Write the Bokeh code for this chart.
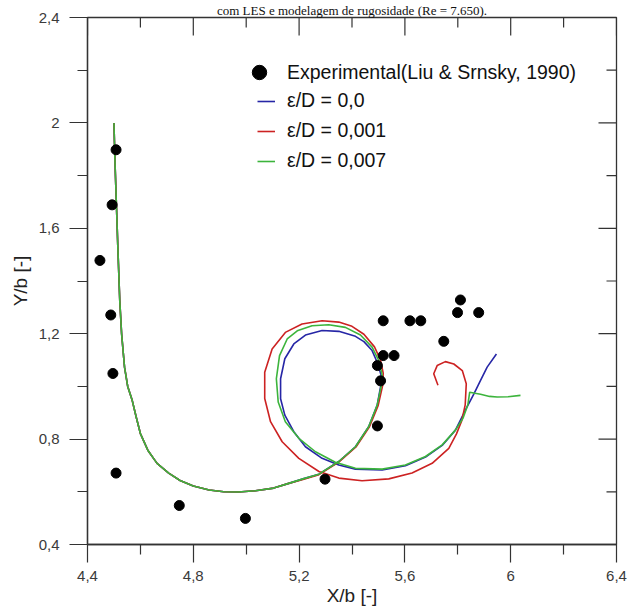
import math
from bokeh.plotting import figure
from bokeh.models import Range1d, FixedTicker, Legend, LegendItem
from bokeh.embed import file_html
from bokeh.resources import INLINE

# ---------------- data ----------------
x_ticks = [4.4, 4.8, 5.2, 5.6, 6.0, 6.4]
x_tick_labels = ["4,4", "4,8", "5,2", "5,6", "6", "6,4"]
x_minor = [4.6, 5.0, 5.4, 5.8, 6.2]
y_ticks = [0.4, 0.8, 1.2, 1.6, 2.0, 2.4]
y_tick_labels = ["0,4", "0,8", "1,2", "1,6", "2", "2,4"]
y_minor = [0.6, 1.0, 1.4, 1.8, 2.2]

exp_x = [4.508, 4.493, 4.447, 4.488, 4.496, 4.508, 4.747, 4.997, 5.298, 5.518, 5.619,
         5.660, 5.810, 5.799, 5.879, 5.747, 5.518, 5.559, 5.496, 5.508, 5.496]
exp_y = [1.898, 1.689, 1.478, 1.271, 1.049, 0.671, 0.548, 0.499, 0.648, 1.249, 1.249,
         1.249, 1.328, 1.280, 1.280, 1.171, 1.117, 1.117, 1.079, 1.021, 0.850]

# shared descent of the vortex (all three simulations coincide here)
approach_x = [4.500, 4.504, 4.509, 4.515, 4.522, 4.529, 4.540, 4.552, 4.569, 4.585, 4.600,
              4.628, 4.663, 4.707, 4.750, 4.800, 4.860, 4.915, 4.970, 5.035, 5.104, 5.161]
approach_y = [2.000, 1.850, 1.700, 1.520, 1.325, 1.199, 1.073, 1.000, 0.947, 0.880, 0.821,
              0.758, 0.708, 0.671, 0.643, 0.622, 0.607, 0.600, 0.599, 0.604, 0.614, 0.632]

# eps/D = 0.0 (blue)
blue_loop_x = [5.218, 5.275, 5.350, 5.413, 5.463, 5.495, 5.509, 5.510, 5.498, 5.476, 5.445,
               5.413, 5.350, 5.287, 5.224, 5.180, 5.146, 5.130, 5.130, 5.146, 5.180, 5.224,
               5.287, 5.350, 5.413, 5.514, 5.602, 5.678, 5.741, 5.791, 5.835, 5.861, 5.886,
               5.911, 5.946]
blue_loop_y = [0.650, 0.667, 0.715, 0.771, 0.847, 0.928, 1.004, 1.042, 1.085, 1.136, 1.170,
               1.190, 1.209, 1.212, 1.195, 1.161, 1.105, 1.029, 0.953, 0.891, 0.828, 0.771,
               0.727, 0.702, 0.686, 0.683, 0.699, 0.732, 0.776, 0.834, 0.922, 0.972, 1.023,
               1.073, 1.123]

# eps/D = 0.001 (red)
red_loop_x = [5.218, 5.275, 5.350, 5.415, 5.466, 5.499, 5.516, 5.518, 5.508, 5.485, 5.445,
              5.400, 5.350, 5.287, 5.211, 5.148, 5.098, 5.070, 5.070, 5.092, 5.136, 5.199,
              5.275, 5.350, 5.438, 5.539, 5.627, 5.703, 5.766, 5.795, 5.815, 5.828, 5.832,
              5.817, 5.785, 5.753, 5.722, 5.709, 5.725]
red_loop_y = [0.648, 0.665, 0.713, 0.770, 0.847, 0.928, 1.004, 1.050, 1.100, 1.150, 1.198,
              1.228, 1.244, 1.249, 1.237, 1.205, 1.142, 1.054, 0.954, 0.866, 0.790, 0.727,
              0.677, 0.652, 0.642, 0.649, 0.671, 0.708, 0.765, 0.820, 0.870, 0.930, 1.010,
              1.060, 1.085, 1.094, 1.079, 1.048, 1.004]

# eps/D = 0.007 (green)
green_loop_x = [5.218, 5.275, 5.350, 5.413, 5.463, 5.495, 5.511, 5.514, 5.504, 5.476, 5.432,
                5.375, 5.312, 5.249, 5.193, 5.155, 5.126, 5.114, 5.121, 5.148, 5.199, 5.262,
                5.337, 5.413, 5.514, 5.602, 5.678, 5.741, 5.791, 5.820, 5.838, 5.845, 5.865,
                5.886, 5.920, 5.949, 5.990, 6.037]
green_loop_y = [0.650, 0.667, 0.715, 0.771, 0.847, 0.928, 1.004, 1.042, 1.092, 1.149, 1.195,
                1.224, 1.234, 1.230, 1.211, 1.180, 1.117, 1.029, 0.941, 0.866, 0.803, 0.752,
                0.712, 0.689, 0.686, 0.702, 0.734, 0.778, 0.834, 0.880, 0.930, 0.978, 0.974,
                0.970, 0.962, 0.960, 0.961, 0.966]

exp_label = "Experimental(Liu & Srnsky, 1990)"
series_labels = ["\u03b5/D = 0,0", "\u03b5/D = 0,001", "\u03b5/D = 0,007"]
series_colors = ["#2626a6", "#cc2222", "#3cb43c"]
caption_text = "com LES e modelagem de rugosidade (Re = 7.650)."

# ---------------- figure ----------------
FONT = "Liberation Sans"
AX = "#333333"
X0, X1 = x_ticks[0], x_ticks[-1]
Y0, Y1 = y_ticks[0], y_ticks[-1]

p = figure(width=635, height=608,
           x_range=Range1d(X0, X1), y_range=Range1d(Y0, Y1),
           output_backend="svg", toolbar_location=None,
           min_border_left=87, min_border_right=19, min_border_top=15, min_border_bottom=63,
           x_axis_label="X/b [-]", y_axis_label="Y/b [-]")
p.grid.visible = False
p.outline_line_color = AX
p.outline_line_width = 1.3
p.background_fill_color = "white"
p.border_fill_color = "white"

# caption of the source document (cut off at the top of the reference picture)
p.title.text = caption_text
p.title.text_font = "Liberation Serif"
p.title.text_font_size = "13px"
p.title.text_font_style = "normal"
p.title.text_color = "#111111"
p.title.align = "center"
p.title.standoff = 0
p.title.offset = 0


def style_axis(ax, ticks, minor, labels, label_standoff):
    ax.ticker = FixedTicker(ticks=ticks, minor_ticks=minor)
    ax.axis_line_color = AX
    ax.axis_line_width = 1.3
    ax.major_tick_line_color = AX
    ax.minor_tick_line_color = AX
    ax.major_tick_line_width = 1.2
    ax.minor_tick_line_width = 1.2
    ax.major_tick_in, ax.major_tick_out = 0, 18
    ax.minor_tick_in, ax.minor_tick_out = 0, 10
    ax.major_label_overrides = dict(zip(ticks, labels))
    ax.major_label_text_font = FONT
    ax.major_label_text_font_size = "15px"
    ax.major_label_text_color = "#3a3a3a"
    ax.axis_label_text_font = FONT
    ax.axis_label_text_font_size = "19px"
    ax.axis_label_text_font_style = "normal"
    ax.axis_label_text_color = "#222222"
    ax.axis_label_standoff = label_standoff


style_axis(p.xaxis[0], x_ticks, x_minor, x_tick_labels, 1)
p.xaxis[0].major_label_standoff = 8
style_axis(p.yaxis[0], y_ticks, y_minor, y_tick_labels, 5)
p.yaxis[0].major_label_standoff = 10

# mirrored inward ticks on the top and right frame edges
tick_kw = dict(line_color=AX, line_width=1.2, length_units="screen")
p.ray(x=x_ticks, y=[Y1] * len(x_ticks), length=18, angle=-math.pi / 2, **tick_kw)
p.ray(x=x_minor, y=[Y1] * len(x_minor), length=10, angle=-math.pi / 2, **tick_kw)
p.ray(x=[X1] * len(y_ticks), y=y_ticks, length=18, angle=math.pi, **tick_kw)
p.ray(x=[X1] * len(y_minor), y=y_minor, length=10, angle=math.pi, **tick_kw)

# curves
r_blue = p.line(approach_x + blue_loop_x, approach_y + blue_loop_y,
                line_color=series_colors[0], line_width=1.6)
r_red = p.line(approach_x + red_loop_x, approach_y + red_loop_y,
               line_color=series_colors[1], line_width=1.6)
r_green = p.line(approach_x + green_loop_x, approach_y + green_loop_y,
                 line_color=series_colors[2], line_width=1.6)
r_exp = p.scatter(exp_x, exp_y, size=10, marker="circle",
                  fill_color="black", line_color="black")

leg1 = Legend(items=[LegendItem(label=exp_label, renderers=[r_exp])],
              location=(154, 454), orientation="vertical",
              glyph_width=36, glyph_height=36, label_height=36,
              label_standoff=10, padding=0, margin=0, spacing=0,
              border_line_color=None, background_fill_alpha=0,
              label_text_font=FONT, label_text_font_size="19.5px",
              label_text_color="#111111")
leg2 = Legend(items=[LegendItem(label=series_labels[0], renderers=[r_blue]),
                     LegendItem(label=series_labels[1], renderers=[r_red]),
                     LegendItem(label=series_labels[2], renderers=[r_green])],
              location=(170, 372), orientation="vertical",
              glyph_width=18, glyph_height=22, label_height=22,
              label_standoff=12, padding=0, margin=0, spacing=7,
              border_line_color=None, background_fill_alpha=0,
              label_text_font=FONT, label_text_font_size="19.5px",
              label_text_color="#111111")
p.add_layout(leg1)
p.add_layout(leg2)

open("out.html", "w").write(file_html(p, INLINE))
